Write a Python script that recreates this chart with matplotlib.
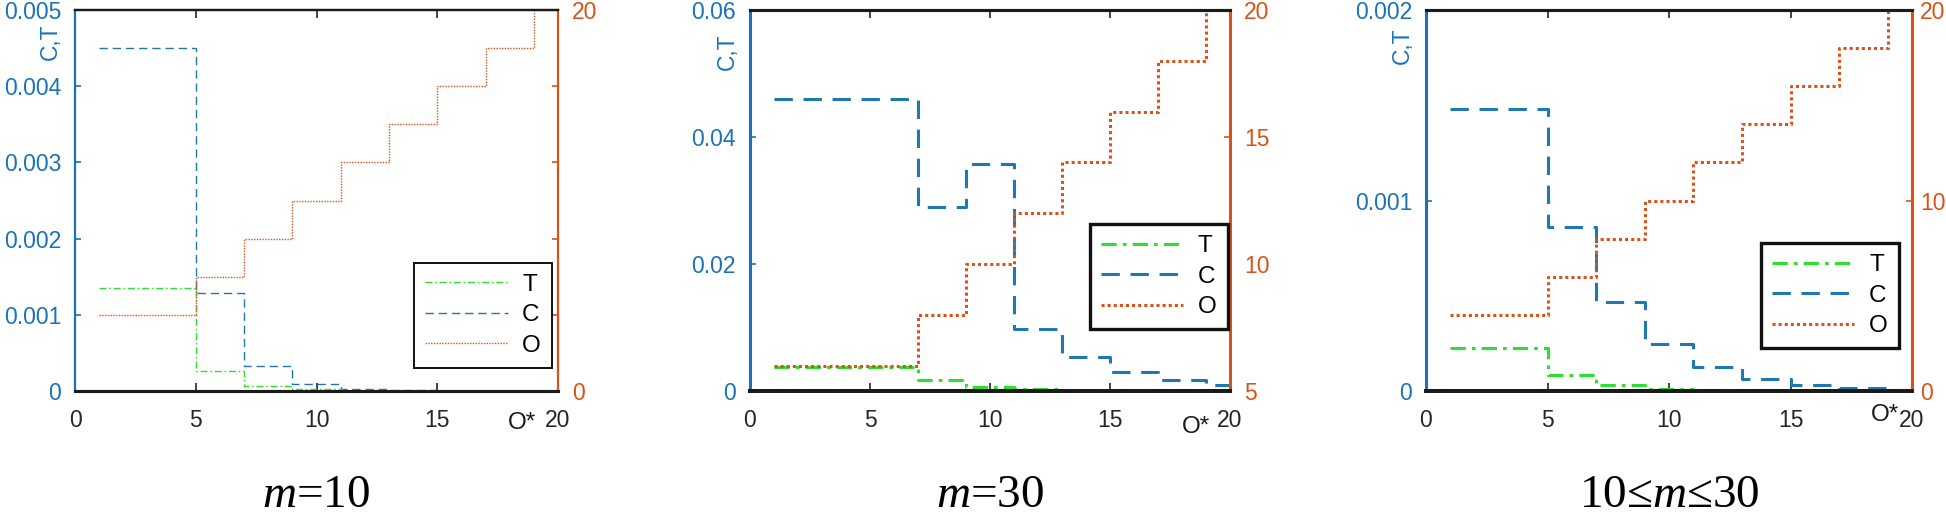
import numpy as np
import matplotlib
matplotlib.use('Agg')
import matplotlib.pyplot as plt

plt.rcParams['font.family'] = ['Liberation Sans', 'DejaVu Sans']
plt.rcParams['mathtext.fontset'] = 'custom'
plt.rcParams['mathtext.rm'] = 'Liberation Serif'
plt.rcParams['mathtext.it'] = 'Liberation Serif:italic'

# ---------------- data ----------------
x = [1, 3, 5, 7, 9, 11, 13, 15, 17, 19]

T_m10 = [0.00135, 0.00135, 0.00026, 0.00007, 0.00002, 0.00001, 0.000005, 0.000003, 0.000002, 0.000001]
C_m10 = [0.0045, 0.0045, 0.00128, 0.00033, 0.00009, 0.00003, 0.00001, 0.000004, 0.000002, 0.000001]
O_m10 = [4, 4, 6, 8, 10, 12, 14, 16, 18, 20]

T_m30 = [0.0038, 0.0038, 0.0038, 0.0017, 0.0007, 0.0003, 0.00015, 0.00008, 0.00004, 0.00002]
C_m30 = [0.046, 0.046, 0.046, 0.0289, 0.0358, 0.0097, 0.0054, 0.0030, 0.0017, 0.0009]
O_m30 = [6, 6, 6, 8, 10, 12, 14, 16, 18, 20]

T_mix = [0.000227, 0.000227, 0.000082, 0.000032, 0.00001, 0.000004, 0.000002, 0.000001, 0.0000005, 0.0000002]
C_mix = [0.00148, 0.00148, 0.00086, 0.000467, 0.000245, 0.000126, 0.000065, 0.000032, 0.000014, 0.000007]
O_mix = [4, 4, 6, 8, 10, 12, 14, 16, 18, 20]

x_ticks = [0, 5, 10, 15, 20]
left_ticks = [[0, 0.001, 0.002, 0.003, 0.004, 0.005], [0, 0.02, 0.04, 0.06], [0, 0.001, 0.002]]
left_labels = [['0', '0.001', '0.002', '0.003', '0.004', '0.005'], ['0', '0.02', '0.04', '0.06'], ['0', '0.001', '0.002']]
right_ticks = [[0, 4, 8, 12, 16, 20], [5, 10, 15, 20], [0, 10, 20]]
right_labels = [['0', '', '', '', '', '20'], ['5', '10', '15', '20'], ['0', '10', '20']]
left_lims = [(0, 0.005), (0, 0.06), (0, 0.002)]
right_lims = [(0, 20), (5, 20), (0, 20)]
titles = [r'$\mathit{m}$=10', r'$\mathit{m}$=30', r'10≤$\mathit{m}$≤30']
series = [(T_m10, C_m10, O_m10), (T_m30, C_m30, O_m30), (T_mix, C_mix, O_mix)]
names = ['T', 'C', 'O']

# ---------------- style ----------------
W, H = 1946, 531
fig = plt.figure(figsize=(W / 100, H / 100), dpi=100)

BLUE = '#1a72b8'
ORANGE = '#d95319'
GREEN = '#2ee02e'
CBLUE = '#1f78b0'

boxes = [(75, 558), (750, 1230), (1426, 1912)]
top_px, bot_px = 10, 391
lws = [1.0, 2.2, 2.2]
spine_lw = [1.6, 2.2, 2.2]
leg_pos = [(0.702, 0.336), (0.708, 0.438), (0.689, 0.388)]
ylab_pos = [(-0.050, 0.916), (-0.048, 0.89), (-0.049, 0.906)]
ostar_pos = [(18.5, -0.055), (18.6, -0.066), (18.9, -0.035)]
right_pad = [10, 10, 6]
FS = 16.5

def stairs(ax, xs, ys, **kw):
    xe = np.append(np.asarray(xs, float), xs[-1] + 2)
    ye = np.append(np.asarray(ys, float), ys[-1])
    return ax.step(xe, ye, where='post', **kw)[0]

for i in range(3):
    l, r = boxes[i]
    ax = fig.add_axes([l / W, 1 - bot_px / H, (r - l) / W, (bot_px - top_px) / H])
    ax2 = ax.twinx()
    T, C, O = series[i]
    lw = lws[i]
    hT = stairs(ax, x, T, color=GREEN, lw=lw, linestyle=(0, (5, 2, 1.2, 2)), label='T', zorder=3)
    hC = stairs(ax, x, C, color=CBLUE, lw=lw, linestyle=(0, (6, 3.5)), label='C', zorder=2)
    hO = stairs(ax2, x, O, color=ORANGE, lw=lw, linestyle=(0, (1, 1)), label='O', zorder=2)

    ax.set_xlim(0, 20)
    ax.set_ylim(*left_lims[i])
    ax2.set_ylim(*right_lims[i])
    ax.set_xticks(x_ticks)
    ax.set_xticklabels([str(t) for t in x_ticks])
    ax.set_yticks(left_ticks[i])
    ax.set_yticklabels(left_labels[i])
    ax2.set_yticks(right_ticks[i])
    ax2.set_yticklabels(right_labels[i])

    ax.tick_params(axis='x', direction='in', top=True, length=6, width=1.2,
                   color='#222222', labelcolor='#262626', labelsize=FS, pad=13)
    ax.tick_params(axis='y', direction='in', length=4, width=1.2,
                   color=BLUE, labelcolor=BLUE, labelsize=FS, pad=10)
    ax2.tick_params(axis='y', direction='in', length=4, width=1.2,
                    color=ORANGE, labelcolor=ORANGE, labelsize=FS, pad=right_pad[i])

    for a in (ax, ax2):
        a.spines['top'].set_color('#1a1a1a')
        a.spines['bottom'].set_color('#1a1a1a')
        a.spines['top'].set_linewidth(spine_lw[i])
        a.spines['bottom'].set_linewidth(spine_lw[i] + 0.6)
    ax.spines['left'].set_color(BLUE)
    ax.spines['left'].set_linewidth(spine_lw[i])
    ax.spines['right'].set_visible(False)
    ax2.spines['left'].set_visible(False)
    ax2.spines['right'].set_color(ORANGE)
    ax2.spines['right'].set_linewidth(spine_lw[i])

    ax.text(ylab_pos[i][0], ylab_pos[i][1], 'C,T', transform=ax.transAxes,
            rotation=90, ha='center', va='center', color=BLUE, fontsize=FS)
    ax.text(ostar_pos[i][0], ostar_pos[i][1], 'O*',
            transform=ax.get_xaxis_transform(), ha='center', va='top',
            color='#1a1a1a', fontsize=FS + 1)

    leg = ax2.legend([hT, hC, hO], names, loc='upper left',
                     bbox_to_anchor=leg_pos[i], borderaxespad=0,
                     fontsize=FS + 1, handlelength=3.4, labelspacing=0.35,
                     borderpad=0.45, handletextpad=0.6, fancybox=False,
                     framealpha=1, edgecolor='#111111')
    leg.get_frame().set_linewidth(1.4 if i == 0 else 2.4)

    fig.text(((l + r) / 2) / W, 0.066, titles[i], ha='center', va='center',
             fontsize=34, family='Liberation Serif', color='black')

fig.savefig('out.png', dpi=100)
